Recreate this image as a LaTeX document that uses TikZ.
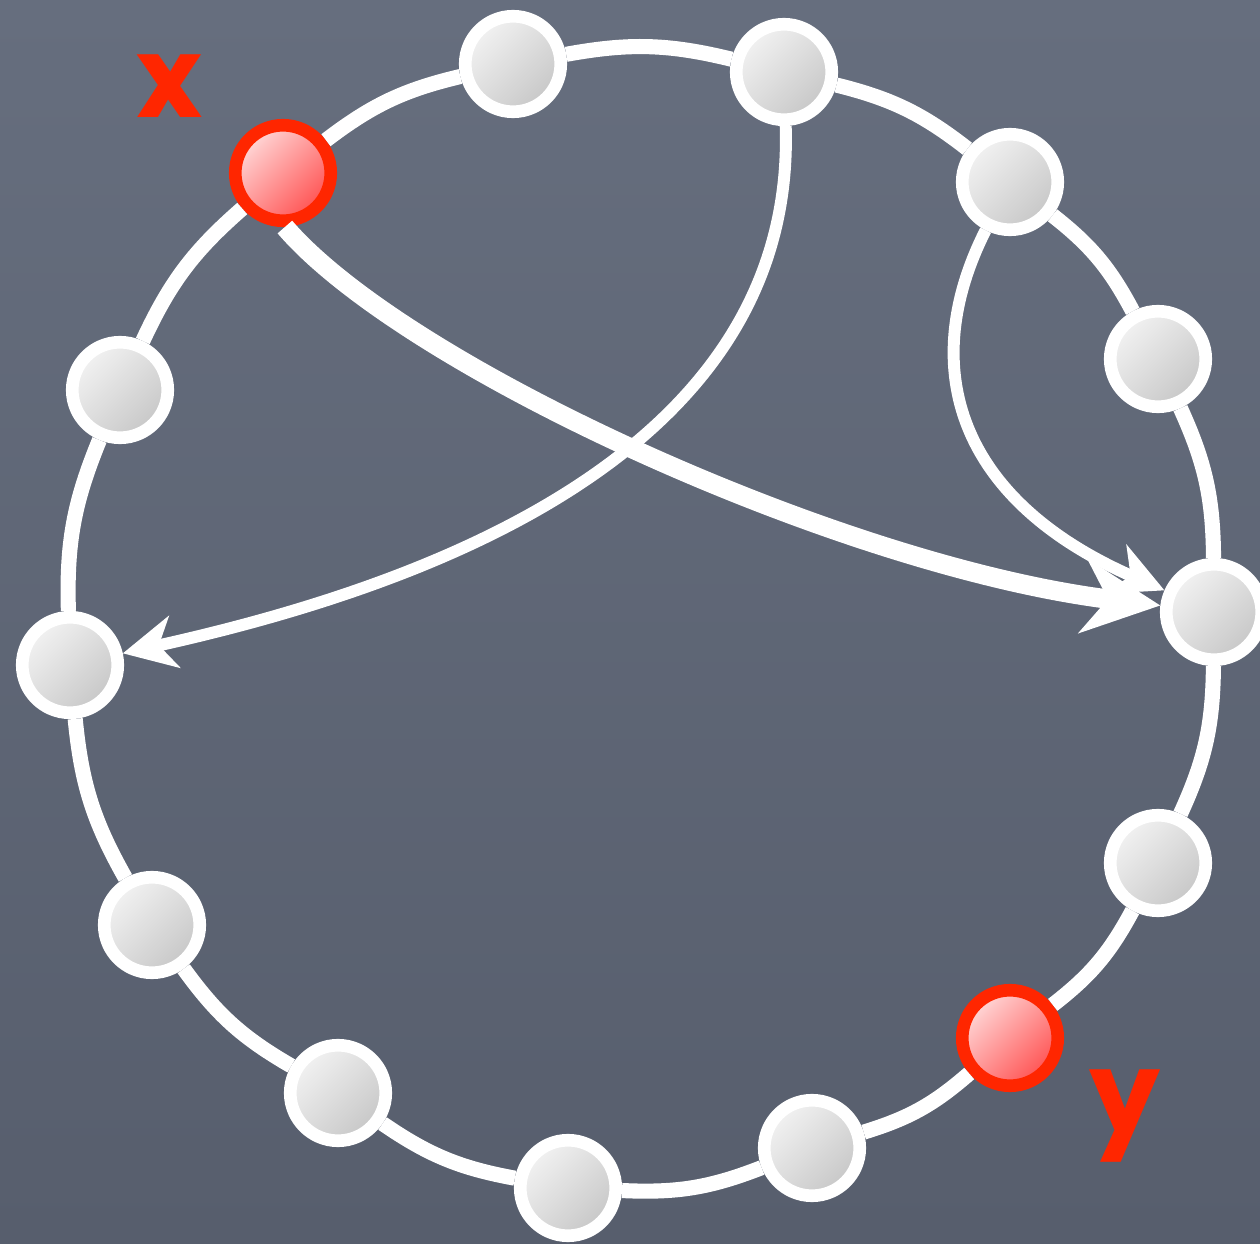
\documentclass[tikz,border=0pt]{standalone}
\usepackage{fontspec}
\usepackage{tikz}
\usetikzlibrary{arrows.meta,positioning,calc}
\newfontfamily\chalkfont{Poppins}
\definecolor{boardtop}{HTML}{666E7E}
\definecolor{boardbot}{HTML}{575E6D}
\definecolor{chalkred}{HTML}{FF2600}
\tikzset{
  vert/.style={circle,draw=white,line width=3.6pt,minimum size=9.55mm,inner sep=0pt,
    top color=white!95!black,bottom color=white!78!black,shading angle=45},
  hit/.style={vert,draw=chalkred,top color=red!15,bottom color=red!68,shading angle=45},
  ring/.style={draw=white,line width=4.3pt},
  arr/.style={-{Stealth[length=15pt,width=15pt,inset=4.5pt]},draw=white,line width=3.4pt},
  bigarr/.style={-{Stealth[length=22pt,width=21pt,inset=7pt]},draw=white,line width=5.5pt},
  lbl/.style={text=chalkred,font=\chalkfont\bfseries\fontsize{32}{36}\selectfont,inner sep=0pt}
}

\begin{document}
\begin{tikzpicture}
\useasboundingbox (0,0) rectangle (12.6,-12.44);
\shade[top color=boardtop,bottom color=boardbot] (0,0) rectangle (12.6,-12.44);

% the ring of vertices
\foreach \i/\x/\y/\s in {1/5.13/-0.64/vert, 2/7.84/-0.72/vert, 3/10.10/-1.82/vert,
  4/11.58/-3.59/vert, 5/12.14/-6.12/vert, 6/11.58/-8.63/vert, 7/10.10/-10.38/hit,
  8/8.12/-11.48/vert, 9/5.68/-11.88/vert, 10/3.38/-10.93/vert, 11/1.52/-9.25/vert,
  12/0.70/-6.65/vert, 13/1.20/-3.90/vert, 14/2.83/-1.73/hit}
  \node[\s] (v\i) at (\x,\y) {};

\foreach \a/\b in {1/2,2/3,3/4,4/5,5/6,6/7,7/8,8/9,9/10,10/11,11/12,12/13,13/14,14/1}
  \draw[ring] (v\a) to[bend left=12] (v\b);

% chords
\draw[arr] (v2) .. controls +(0.11,-3.48) and +(4.30,0.95) .. (v12);
\draw[bigarr] (v14.-88) .. controls +(1.2,-1.4) and +(-3.7,0.45) .. (v5);
\draw[arr] (v3) .. controls +(-0.95,-1.88) and +(-2.54,1.11) .. (v5);

\node[lbl] (lx) at (1.70,-0.86) {x};
\node[lbl] (ly) at (11.25,-11.16) {y};
\end{tikzpicture}
\end{document}
